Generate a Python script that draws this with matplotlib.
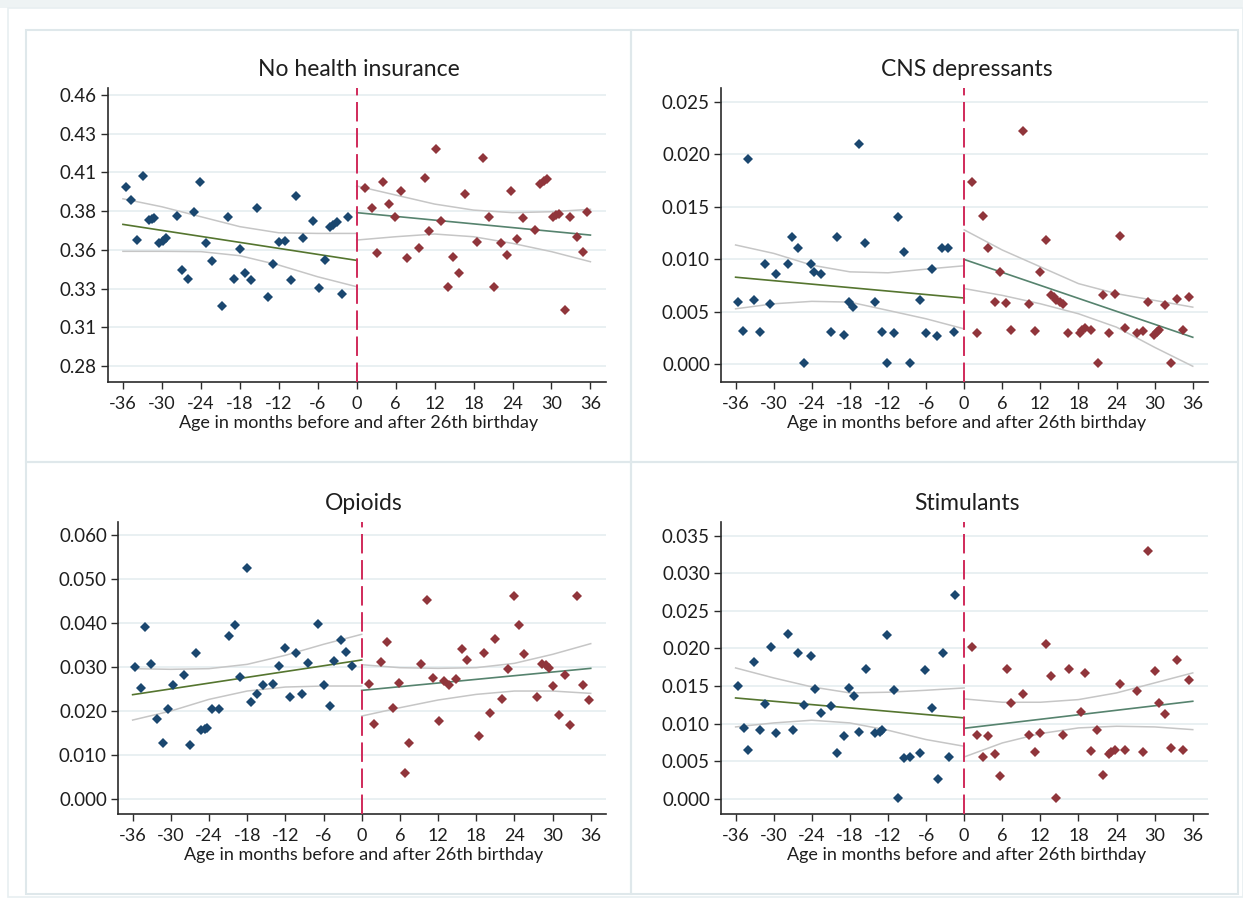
import numpy as np
import matplotlib.pyplot as plt
from matplotlib.patches import Rectangle

W, H = 1243, 898
plt.rcParams['font.family'] = ['Lato', 'DejaVu Sans']

month_ticks = [-36, -30, -24, -18, -12, -6, 0, 6, 12, 18, 24, 30, 36]
ci_left_x = [-36, -30, -24, -18, -12, -6, 0]
ci_right_x = [0, 6, 12, 18, 24, 30, 36]

# --- No health insurance
ins_bx = [-35.6, -34.8, -33.8, -32.9, -32.0, -31.6, -31.2, -30.4, -29.9, -29.4, -27.7, -26.9, -26.0,
          -25.1, -24.1, -23.2, -22.3, -20.7, -19.8, -18.9, -17.9, -17.2, -16.3, -15.4, -13.6, -12.9,
          -12.0, -11.1, -10.1, -9.3, -8.3, -6.7, -5.8, -4.9, -4.1, -3.6, -3.1, -2.3, -1.4]
ins_by = [0.399, 0.390, 0.3635, 0.406, 0.377, 0.3779, 0.3785, 0.3615, 0.363, 0.3648, 0.380, 0.3438,
          0.3378, 0.3825, 0.4022, 0.3615, 0.3495, 0.3199, 0.3792, 0.3378, 0.3575, 0.342, 0.3369,
          0.3852, 0.3258, 0.3475, 0.3621, 0.3633, 0.3369, 0.3931, 0.3652, 0.3765, 0.3318, 0.3504,
          0.3723, 0.3739, 0.3754, 0.328, 0.3792]
ins_rx = [1.3, 2.3, 3.2, 4.1, 5.0, 5.9, 6.9, 7.8, 9.6, 10.5, 11.2, 12.2, 13.0, 14.0, 14.9, 15.7, 16.7,
          18.5, 19.4, 20.4, 21.2, 22.2, 23.1, 23.8, 24.7, 25.6, 27.4, 28.3, 28.8, 29.3, 30.2, 30.7,
          31.2, 32.1, 32.9, 33.9, 34.8, 35.5]
ins_ry = [0.398, 0.3852, 0.3548, 0.4022, 0.3874, 0.3792, 0.3962, 0.3515, 0.3586, 0.4051, 0.3697,
          0.4239, 0.3765, 0.3327, 0.3526, 0.342, 0.3942, 0.3624, 0.4179, 0.3792, 0.3327, 0.3615,
          0.3537, 0.3962, 0.3646, 0.3785, 0.3703, 0.4009, 0.4027, 0.4042, 0.3792, 0.3803, 0.3812,
          0.3172, 0.3792, 0.3655, 0.3557, 0.3823]
ins_fit_l = [0.3741, 0.3502]
ins_fit_r = [0.3819, 0.3670]
ins_hi_l = [0.3911, 0.3858, 0.3792, 0.3726, 0.3685, 0.3681, 0.3681]
ins_lo_l = [0.3562, 0.3562, 0.3560, 0.3533, 0.3471, 0.3393, 0.3327]
ins_hi_r = [0.3996, 0.3936, 0.3876, 0.3836, 0.3819, 0.3825, 0.3841]
ins_lo_r = [0.3637, 0.3659, 0.3677, 0.3659, 0.3615, 0.3560, 0.3493]
ins_yticks = [0.28, 0.3057, 0.3314, 0.3571, 0.3829, 0.4086, 0.4343, 0.46]
ins_ylabels = ['0.28', '0.31', '0.33', '0.36', '0.38', '0.41', '0.43', '0.46']

# --- CNS depressants
cns_bx = [-35.7, -34.8, -34.1, -33.1, -32.1, -31.3, -30.6, -29.7, -27.7, -27.1, -26.1, -25.2, -24.2,
          -23.6, -22.6, -21.0, -20.0, -19.0, -18.2, -17.5, -16.6, -15.6, -14.0, -13.0, -12.1, -11.1,
          -10.5, -9.5, -8.5, -7.0, -6.0, -5.1, -4.3, -3.5, -2.5, -1.6]
cns_by = [0.00595, 0.0032, 0.0195, 0.00607, 0.0031, 0.0095, 0.00575, 0.00863, 0.0095, 0.0121, 0.0111,
          0.0001, 0.0095, 0.00876, 0.00863, 0.0031, 0.0121, 0.00281, 0.00595, 0.00543, 0.02094,
          0.01151, 0.00595, 0.0031, 0.0001, 0.00297, 0.01397, 0.01065, 0.0001, 0.00607, 0.00297,
          0.00905, 0.00265, 0.0111, 0.0111, 0.0031]
cns_rx = [1.2, 2.0, 2.9, 3.8, 4.8, 5.7, 6.6, 7.3, 9.3, 10.2, 11.1, 12.0, 12.9, 13.7, 14.1, 14.5, 15.1,
          15.5, 16.4, 18.3, 18.6, 19.0, 20.0, 21.0, 21.8, 22.8, 23.7, 24.6, 25.4, 27.2, 28.1, 29.0,
          29.9, 30.3, 30.7, 31.7, 32.6, 33.5, 34.5, 35.4]
cns_ry = [0.01739, 0.00297, 0.0141, 0.0111, 0.0059, 0.00882, 0.00582, 0.00326, 0.02225, 0.00569,
          0.00313, 0.00882, 0.0118, 0.00655, 0.0064, 0.00614, 0.00591, 0.00575, 0.00297, 0.00297,
          0.00326, 0.00345, 0.00326, 0.0001, 0.00655, 0.00297, 0.00671, 0.01224, 0.00345, 0.00297,
          0.00313, 0.0059, 0.00281, 0.00304, 0.00326, 0.00566, 0.0001, 0.00623, 0.00326, 0.0064]
cns_fit_l = [0.00828, 0.00630]
cns_fit_r = [0.00997, 0.00256]
cns_hi_l = [0.01135, 0.01055, 0.00943, 0.00879, 0.00870, 0.00905, 0.00937]
cns_lo_l = [0.00527, 0.00575, 0.00598, 0.00591, 0.00512, 0.00432, 0.00336]
cns_hi_r = [0.01279, 0.01087, 0.00927, 0.00767, 0.00671, 0.00607, 0.00543]
cns_lo_r = [0.00720, 0.00655, 0.00575, 0.00480, 0.00352, 0.00160, -0.0002]
cns_yticks = [0.0, 0.005, 0.010, 0.015, 0.020, 0.025]
cns_ylabels = ['0.000', '0.005', '0.010', '0.015', '0.020', '0.025']

# --- Opioids
opi_bx = [-35.6, -34.7, -34.0, -33.1, -32.2, -31.2, -30.5, -29.6, -28.0, -27.0, -26.1, -25.2, -24.7,
          -24.3, -23.5, -22.5, -20.9, -19.9, -19.1, -18.1, -17.4, -16.5, -15.5, -13.9, -13.0, -12.0,
          -11.3, -10.4, -9.4, -8.5, -6.9, -6.0, -5.0, -4.3, -3.3, -2.4, -1.5]
opi_by = [0.030, 0.02523, 0.03909, 0.03068, 0.01818, 0.01273, 0.02053, 0.02598, 0.02826, 0.01235,
          0.03333, 0.01576, 0.01591, 0.01614, 0.02045, 0.02045, 0.03712, 0.03955, 0.02773, 0.05265,
          0.02212, 0.02386, 0.02598, 0.02629, 0.03038, 0.03439, 0.02326, 0.03333, 0.02386, 0.03106,
          0.03977, 0.02591, 0.02121, 0.03136, 0.03621, 0.03341, 0.0303]
opi_rx = [1.1, 2.0, 3.0, 4.0, 4.85, 5.8, 6.75, 7.4, 9.3, 10.2, 11.2, 12.1, 12.9, 13.8, 14.8, 15.7, 16.6,
          18.5, 19.2, 20.1, 21.0, 22.0, 23.0, 23.9, 24.7, 25.5, 27.5, 28.3, 28.9, 29.5, 30.0, 31.05,
          31.9, 32.8, 33.8, 34.8, 35.7]
opi_ry = [0.02629, 0.0172, 0.03114, 0.03576, 0.02083, 0.02636, 0.006, 0.01273, 0.03076, 0.0453,
          0.02758, 0.0178, 0.02689, 0.02598, 0.02742, 0.03409, 0.03167, 0.01439, 0.03318, 0.01955,
          0.03652, 0.02288, 0.02962, 0.04629, 0.03955, 0.0331, 0.02326, 0.03068, 0.03045, 0.02992,
          0.02568, 0.01917, 0.02833, 0.01682, 0.04629, 0.02598, 0.02258]
opi_fit_l = [0.02379, 0.03167]
opi_fit_r = [0.02477, 0.02977]
opi_hi_l = [0.02970, 0.02955, 0.02970, 0.03068, 0.03273, 0.03523, 0.03750]
opi_lo_l = [0.01803, 0.02008, 0.02273, 0.02462, 0.02553, 0.02576, 0.02576]
opi_hi_r = [0.03060, 0.02992, 0.02977, 0.02992, 0.03091, 0.03295, 0.03538]
opi_lo_r = [0.01894, 0.02083, 0.02258, 0.02386, 0.02462, 0.02462, 0.02409]
opi_yticks = [0.0, 0.01, 0.02, 0.03, 0.04, 0.05, 0.06]
opi_ylabels = ['0.000', '0.010', '0.020', '0.030', '0.040', '0.050', '0.060']

# --- Stimulants
sti_bx = [-35.7, -34.7, -34.1, -33.1, -32.2, -31.3, -30.5, -29.7, -27.7, -27.0, -26.1, -25.2, -24.2,
          -23.5, -22.6, -20.9, -20.0, -19.0, -18.2, -17.4, -16.5, -15.5, -14.0, -13.3, -12.9, -12.1,
          -11.1, -10.4, -9.5, -8.5, -6.9, -6.1, -5.0, -4.2, -3.4, -2.4, -1.5]
sti_by = [0.01506, 0.00944, 0.00656, 0.01821, 0.00913, 0.01267, 0.02025, 0.00877, 0.02197, 0.00913,
          0.0194, 0.01249, 0.019, 0.01466, 0.01147, 0.01232, 0.00616, 0.00833, 0.01471, 0.01369,
          0.00886, 0.01723, 0.00877, 0.0089, 0.00913, 0.0218, 0.01449, 0.0001, 0.00541, 0.00558,
          0.00616, 0.01719, 0.0121, 0.00266, 0.0194, 0.00558, 0.02716]
sti_rx = [1.26, 2.0, 2.9, 3.8, 4.8, 5.7, 6.7, 7.3, 9.3, 10.2, 11.1, 12.0, 12.9, 13.7, 14.5, 15.5, 16.5,
          18.4, 19.0, 20.0, 20.9, 21.8, 22.8, 23.2, 23.7, 24.6, 25.4, 27.2, 28.1, 29.0, 30.0, 30.7,
          31.7, 32.6, 33.5, 34.5, 35.4]
sti_ry = [0.02025, 0.00851, 0.00558, 0.00833, 0.00598, 0.00301, 0.01728, 0.01271, 0.01396, 0.00855,
          0.0062, 0.00877, 0.02064, 0.0163, 0.0001, 0.00851, 0.01728, 0.01156, 0.0167, 0.00642,
          0.00913, 0.00323, 0.00598, 0.00625, 0.00656, 0.01533, 0.00656, 0.01431, 0.0062, 0.03292,
          0.01701, 0.01271, 0.01134, 0.00678, 0.01843, 0.00656, 0.01586]
sti_fit_l = [0.01342, 0.01077]
sti_fit_r = [0.00939, 0.01298]
sti_hi_l = [0.01741, 0.01608, 0.01489, 0.01409, 0.01418, 0.01444, 0.01475]
sti_lo_l = [0.00957, 0.01010, 0.01046, 0.01010, 0.00913, 0.00789, 0.00700]
sti_hi_r = [0.01329, 0.01285, 0.01285, 0.01320, 0.01409, 0.01542, 0.01675]
sti_lo_r = [0.00558, 0.00744, 0.00868, 0.00944, 0.00966, 0.00957, 0.00921]
sti_yticks = [0.0, 0.005, 0.010, 0.015, 0.020, 0.025, 0.030, 0.035]
sti_ylabels = ['0.000', '0.005', '0.010', '0.015', '0.020', '0.025', '0.030', '0.035']

navy = '#1a476f'
maroon = '#90353b'
olive = '#55752f'
teal = '#56836e'
ci_gray = '#c6c6c6'
grid = '#e9f0f2'
frame = '#dfe8eb'
txt = '#1e1e1e'

fig = plt.figure(figsize=(W / 100, H / 100), dpi=100)

# outer frame + panel boxes
fig.patches.append(Rectangle((0, 1 - 8 / H), 1, 8 / H, transform=fig.transFigure,
                             facecolor='#eef3f4', edgecolor='none'))
fig.patches.append(Rectangle((8 / W, 1 - 897 / H), (W - 8) / W, 889 / H, transform=fig.transFigure,
                             facecolor='none', edgecolor='#e8eff1', lw=1.2))
for (bx0, by0, bx1, by1) in [(26, 30, 631, 462), (631, 30, 1238, 462),
                             (26, 462, 631, 894), (631, 462, 1238, 894)]:
    fig.patches.append(Rectangle((bx0 / W, 1 - by1 / H), (bx1 - bx0) / W, (by1 - by0) / H,
                                 transform=fig.transFigure, facecolor='none',
                                 edgecolor=frame, lw=1.5))


def panel(box, title, bx, by, rx, ry, fit_l, fit_r, hi_l, lo_l, hi_r, lo_r, yticks, ylabels, ylim):
    x0, y0, x1, y1 = box
    ax = fig.add_axes([x0 / W, 1 - y1 / H, (x1 - x0) / W, (y1 - y0) / H])
    for yt in yticks:
        ax.axhline(yt, color=grid, lw=1.4, zorder=0)
    ax.plot(ci_left_x, hi_l, color=ci_gray, lw=1.1, zorder=2)
    ax.plot(ci_left_x, lo_l, color=ci_gray, lw=1.1, zorder=2)
    ax.plot(ci_right_x, hi_r, color=ci_gray, lw=1.1, zorder=2)
    ax.plot(ci_right_x, lo_r, color=ci_gray, lw=1.1, zorder=2)
    ax.plot([-36, 0], fit_l, color=olive, lw=1.2, zorder=3)
    ax.plot([0, 36], fit_r, color=teal, lw=1.2, zorder=3)
    ax.plot(bx, by, 'D', color=navy, ms=5.3, mew=0, zorder=4)
    ax.plot(rx, ry, 'D', color=maroon, ms=5.3, mew=0, zorder=4)
    ax.axvline(0, color='#d02a5a', lw=1.4, ls=(0, (10, 3.4)), zorder=5)
    ax.set_xlim(-38.3, 38.4)
    ax.set_ylim(ylim)
    ax.set_xticks(month_ticks)
    ax.set_xticklabels([str(m) for m in month_ticks])
    ax.set_yticks(yticks)
    ax.set_yticklabels(ylabels)
    for s in ['top', 'right']:
        ax.spines[s].set_visible(False)
    for s in ['left', 'bottom']:
        ax.spines[s].set_color('#2b2b2b')
        ax.spines[s].set_linewidth(1.2)
    ax.tick_params(axis='both', length=5, width=1, color='#2b2b2b', labelcolor=txt)
    ax.tick_params(axis='x', pad=5, labelsize=13)
    ax.tick_params(axis='y', pad=3, labelsize=13.5)
    cx = (x0 + x1) / 2 + 2
    fig.text(cx / W, 1 - (y0 - 19) / H, title, ha='center', va='center', fontsize=16.5, color=txt)
    fig.text(cx / W, 1 - (y1 + 41) / H, 'Age in months before and after 26th birthday',
             ha='center', va='center', fontsize=13, color=txt)
    return ax


panel((108, 88, 606, 382), 'No health insurance', ins_bx, ins_by, ins_rx, ins_ry,
      ins_fit_l, ins_fit_r, ins_hi_l, ins_lo_l, ins_hi_r, ins_lo_r,
      ins_yticks, ins_ylabels, (0.2694, 0.4647))
panel((721, 88, 1208, 382), 'CNS depressants', cns_bx, cns_by, cns_rx, cns_ry,
      cns_fit_l, cns_fit_r, cns_hi_l, cns_lo_l, cns_hi_r, cns_lo_r,
      cns_yticks, cns_ylabels, (-0.0017, 0.0263))
panel((118, 522, 606, 814), 'Opioids', opi_bx, opi_by, opi_rx, opi_ry,
      opi_fit_l, opi_fit_r, opi_hi_l, opi_lo_l, opi_hi_r, opi_lo_r,
      opi_yticks, opi_ylabels, (-0.0033, 0.063))
panel((721, 522, 1208, 814), 'Stimulants', sti_bx, sti_by, sti_rx, sti_ry,
      sti_fit_l, sti_fit_r, sti_hi_l, sti_lo_l, sti_hi_r, sti_lo_r,
      sti_yticks, sti_ylabels, (-0.002, 0.0368))

fig.savefig('out.png', dpi=100, facecolor='white')
